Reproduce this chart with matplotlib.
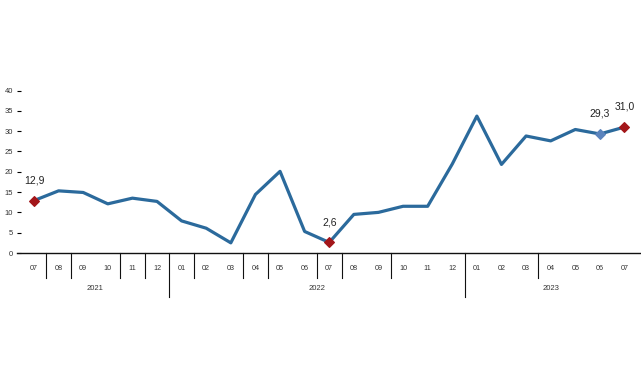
import matplotlib
matplotlib.use("Agg")
import matplotlib.pyplot as plt
import matplotlib.transforms as mtransforms

plt.rcParams["font.family"] = ["Liberation Sans", "DejaVu Sans"]

# --- data ---
months = ["07", "08", "09", "10", "11", "12",
          "01", "02", "03", "04", "05", "06", "07", "08", "09", "10", "11", "12",
          "01", "02", "03", "04", "05", "06", "07"]
values = [12.9, 15.3, 14.9, 12.1, 13.5, 12.7,
          7.9, 6.1, 2.5, 14.4, 20.1, 5.3, 2.6, 9.5, 10.0, 11.5, 11.5, 21.9,
          33.7, 21.8, 28.8, 27.6, 30.4, 29.3, 31.0]
years = ["2021", "2022", "2023"]
year_months = [6, 12, 7]
labelled = {0: "12,9", 12: "2,6", 23: "29,3", 24: "31,0"}
red_marks = [0, 12, 24]
blue_marks = [23]
yticks = [0, 5, 10, 15, 20, 25, 30, 35, 40]

# layout: separators after index i, long ones mark year boundaries
short_seps = [0, 1, 3, 4, 6, 8, 9, 11, 12, 14, 20]
long_seps = [5, 17]

LINE = "#2b6a9c"
RED = "#a3161a"
BLUE = "#5b84bd"

fig = plt.figure(figsize=(6.41, 3.80), dpi=100)
ax = fig.add_axes([17 / 641, (380 - 253) / 380, (640 - 17) / 641, 162.5 / 380])

x = list(range(len(values)))
ax.plot(x, values, color=LINE, linewidth=2.3, solid_joinstyle="round", zorder=2)
ax.scatter([x[i] for i in red_marks], [values[i] for i in red_marks],
           marker="D", s=24, color=RED, zorder=3, clip_on=False)
ax.scatter([x[i] for i in blue_marks], [values[i] for i in blue_marks],
           marker="D", s=24, color=BLUE, zorder=3, clip_on=False)
for i, txt in labelled.items():
    ax.annotate(txt, (x[i], values[i]), xytext=(0, 11), textcoords="offset points",
                ha="center", va="bottom", fontsize=7.5, color="#222222")

ax.set_xlim(-0.69, 24.63)
ax.set_ylim(0, 40)
ax.set_yticks(yticks)
ax.set_yticklabels([str(v) for v in yticks], fontsize=5.5, color="#333333")
ax.tick_params(axis="y", direction="in", length=3, width=0.8, pad=3)

ax.set_xticks(x)
ax.set_xticklabels(months, fontsize=5.2, color="#333333")
ax.tick_params(axis="x", length=0, pad=9)

for s in ["top", "right", "left"]:
    ax.spines[s].set_visible(False)
ax.spines["bottom"].set_linewidth(1.0)
ax.spines["bottom"].set_color("#111111")

trans = mtransforms.blended_transform_factory(ax.transData, ax.transAxes)
px = 1 / 162.5
for i in short_seps:
    ax.plot([i + 0.5, i + 0.5], [0, -25 * px], color="#111111", lw=0.8,
            transform=trans, clip_on=False)
for i in long_seps:
    ax.plot([i + 0.5, i + 0.5], [0, -44 * px], color="#111111", lw=0.8,
            transform=trans, clip_on=False)
start = 0
for yr, n in zip(years, year_months):
    ax.text(start + (n - 1) / 2, -35 * px, yr, transform=trans, ha="center",
            va="center", fontsize=5.5, color="#333333")
    start += n

fig.savefig("out.png", dpi=100)
